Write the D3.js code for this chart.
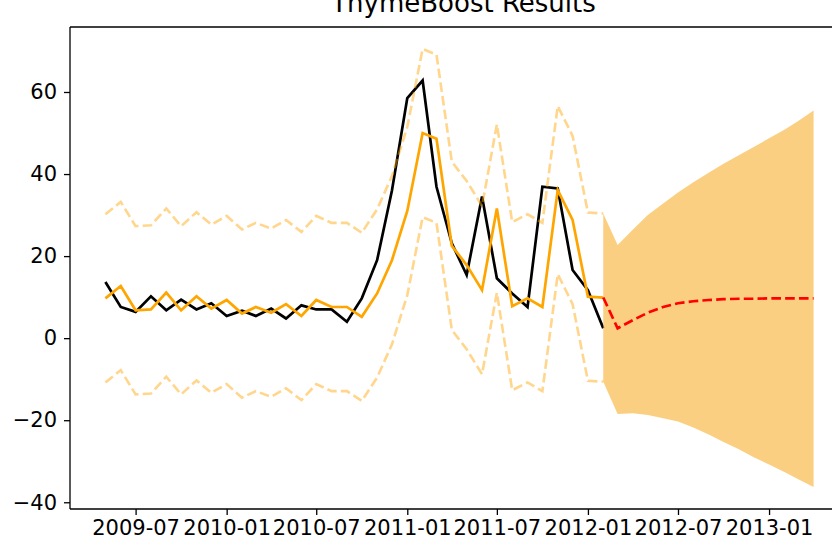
<!DOCTYPE html>
<html>
<head>
<meta charset="utf-8">
<script src="https://cdn.jsdelivr.net/npm/d3@7"></script>
<style>
  html, body { margin: 0; padding: 0; background: #fff; overflow: hidden; }
  svg { display: block; font-family: "DejaVu Sans", sans-serif; }
</style>
</head>
<body>
<svg id="chart" width="832" height="541"></svg>
<script>
// ---- data ----
const dates = ["2009-05","2009-06","2009-07","2009-08","2009-09","2009-10","2009-11","2009-12",
  "2010-01","2010-02","2010-03","2010-04","2010-05","2010-06","2010-07","2010-08","2010-09","2010-10","2010-11","2010-12",
  "2011-01","2011-02","2011-03","2011-04","2011-05","2011-06","2011-07","2011-08","2011-09","2011-10","2011-11","2011-12",
  "2012-01","2012-02"];
const actual = [13.7,7.6,6.4,10.2,6.8,9.4,7.0,8.5,
  5.4,6.7,5.4,7.2,4.8,8.0,7.0,7.0,4.0,9.7,19.0,36.0,
  58.5,62.8,36.9,23.1,15.4,34.5,14.6,10.9,7.6,36.9,36.5,16.6,
  11.7,2.4];
const fitted = [9.7,12.7,6.8,7.0,11.1,6.8,10.2,7.2,
  9.3,6.0,7.6,6.2,8.3,5.4,9.3,7.6,7.6,5.2,10.9,19.0,
  31.0,50.0,48.6,22.5,17.8,11.7,31.6,7.8,9.7,7.6,36.1,28.8,
  10.1,9.9];
const fittedUpper = [30.2,33.2,27.3,27.5,31.6,27.3,30.7,27.7,
  29.8,26.5,28.1,26.7,28.8,25.9,29.8,28.1,28.1,25.7,31.4,39.5,
  51.5,70.5,69.1,43.0,38.3,32.2,52.1,28.3,30.2,28.1,56.6,49.3,
  30.6,30.4];
const fittedLower = [-10.8,-7.8,-13.7,-13.5,-9.4,-13.7,-10.3,-13.3,
  -11.2,-14.5,-12.9,-14.3,-12.2,-15.1,-11.2,-12.9,-12.9,-15.3,-9.6,-1.5,
  10.5,29.5,28.1,2.0,-2.7,-8.8,11.1,-12.7,-10.8,-12.9,15.6,8.3,
  -10.4,-10.6];

const fcDates = ["2012-02","2012-03","2012-04","2012-05","2012-06","2012-07","2012-08","2012-09",
  "2012-10","2012-11","2012-12","2013-01","2013-02","2013-03","2013-04"];
const forecast = [9.9,2.4,4.4,6.2,7.6,8.5,9.0,9.3,9.5,9.6,9.6,9.7,9.7,9.7,9.7];
const fcUpper = [30.4,22.7,26.5,30.0,32.8,35.5,38.0,40.3,42.5,44.6,46.6,48.7,50.8,52.9,55.5];
const fcLower = [-10.6,-18.5,-18.3,-18.7,-19.5,-20.3,-21.8,-23.5,-25.3,-27.1,-29.0,-30.8,-32.6,-34.4,-36.3];

const xTicks = ["2009-07","2010-01","2010-07","2011-01","2011-07","2012-01","2012-07","2013-01"];
const yTicks = [-40,-20,0,20,40,60];
const title = "ThymeBoost Results";

// ---- layout ----
const svg = d3.select("#chart");
const L = 70, R = 849, T = 27, B = 509;
const parse = d3.utcParse("%Y-%m");
const fmt = d3.utcFormat("%Y-%m");

const allDates = dates.concat(fcDates).map(parse);
const dMin = d3.min(allDates), dMax = d3.max(allDates);
const span = dMax - dMin;
const x = d3.scaleUtc()
  .domain([new Date(+dMin - 0.05 * span), new Date(+dMax + 0.05 * span)])
  .range([L, R]);

const allVals = actual.concat(fitted, fittedUpper, fittedLower, forecast, fcUpper, fcLower);
const vMin = d3.min(allVals), vMax = d3.max(allVals);
const vSpan = vMax - vMin;
const y = d3.scaleLinear()
  .domain([vMin - 0.05 * vSpan, vMax + 0.05 * vSpan])
  .range([B, T]);

const plot = svg.append("g");
plot.append("clipPath").attr("id", "clip")
  .append("rect").attr("x", L).attr("y", T).attr("width", R - L).attr("height", B - T);
const g = plot.append("g").attr("clip-path", "url(#clip)");

const line = (xs, ys) => d3.line()
  .x((d, i) => x(parse(xs[i])))
  .y(d => y(d))(ys);

// actual
g.append("path").attr("d", line(dates, actual))
  .attr("fill", "none").attr("stroke", "black").attr("stroke-width", 2.7);
// fitted
g.append("path").attr("d", line(dates, fitted))
  .attr("fill", "none").attr("stroke", "orange").attr("stroke-width", 2.7);
// fitted bounds
[fittedUpper, fittedLower].forEach(arr => {
  g.append("path").attr("d", line(dates, arr))
    .attr("fill", "none").attr("stroke", "orange").attr("stroke-opacity", 0.45)
    .attr("stroke-width", 2.6).attr("stroke-dasharray", "9.6,4.2");
});
// forecast band
const area = d3.area()
  .x((d, i) => x(parse(fcDates[i])))
  .y0((d, i) => y(fcLower[i]))
  .y1(d => y(d));
g.append("path").attr("d", area(fcUpper))
  .attr("fill", "#f9b846").attr("fill-opacity", 0.68).attr("stroke", "none");
// forecast line
g.append("path").attr("d", line(fcDates, forecast))
  .attr("fill", "none").attr("stroke", "red").attr("stroke-width", 2.7)
  .attr("stroke-dasharray", "9.6,4.2");

// ---- axes ----
const xAxis = d3.axisBottom(x)
  .tickValues(xTicks.map(parse))
  .tickFormat(fmt).tickSizeOuter(0).tickSize(6).tickPadding(5);
const gx = svg.append("g").attr("transform", `translate(0,${B})`).call(xAxis);
gx.select(".domain").remove();
gx.selectAll(".tick line").attr("stroke", "#000").attr("stroke-width", 1.3);
gx.selectAll(".tick text").attr("font-size", 21).attr("fill", "#000")
  .attr("font-family", "DejaVu Sans");

const yAxis = d3.axisLeft(y)
  .tickValues(yTicks)
  .tickFormat(d => d < 0 ? "\u2212" + Math.abs(d) : String(d))
  .tickSizeOuter(0).tickSize(6).tickPadding(7);
const gy = svg.append("g").attr("transform", `translate(${L},0)`).call(yAxis);
gy.select(".domain").remove();
gy.selectAll(".tick line").attr("stroke", "#000").attr("stroke-width", 1.3);
gy.selectAll(".tick text").attr("font-size", 21).attr("fill", "#000")
  .attr("font-family", "DejaVu Sans");

// spines
const spines = svg.append("g").attr("fill", "none").attr("stroke", "#000").attr("stroke-width", 1.3);
spines.append("line").attr("x1", L).attr("x2", L).attr("y1", T).attr("y2", B);
spines.append("line").attr("x1", L).attr("x2", R).attr("y1", B).attr("y2", B);
spines.append("line").attr("x1", L).attr("x2", R).attr("y1", T).attr("y2", T);
spines.append("line").attr("x1", R).attr("x2", R).attr("y1", T).attr("y2", B);

// title (partially cut off at top in the reference)
svg.append("text")
  .attr("x", (L + R) / 2 + 4).attr("y", 12)
  .attr("text-anchor", "middle")
  .attr("font-size", 26).attr("fill", "#000")
  .text(title);
</script>
</body>
</html>
